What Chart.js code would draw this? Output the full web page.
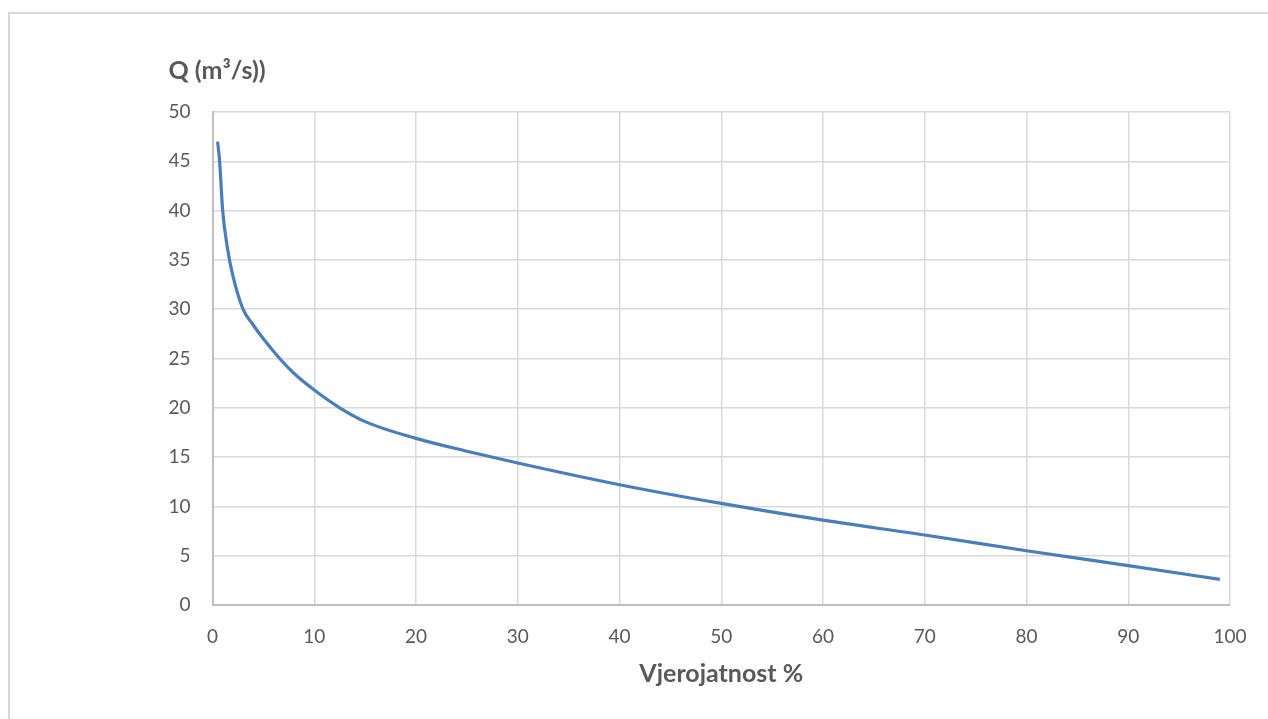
<!DOCTYPE html>
<html>
<head>
<meta charset="utf-8">
<script src="https://cdn.jsdelivr.net/npm/chart.js@4.4.1/dist/chart.umd.min.js"></script>
<style>
  html, body { margin: 0; padding: 0; background: #fff; overflow: hidden; }
  #wrap { position: relative; width: 1268px; height: 719px; }
  #frame { position: absolute; left: 8px; top: 12px; width: 1300px; height: 800px;
           border-left: 2px solid #d9d9d9; border-top: 2px solid #d9d9d9; box-sizing: border-box; }
  canvas { position: absolute; left: 0; top: 0; }
</style>
</head>
<body>
<div id="wrap">
  <div id="frame"></div>
  <canvas id="c" width="1268" height="719"></canvas>
</div>
<script>
// Values
const probability = [0.5, 0.7, 1.0, 1.5, 2.0, 3.0, 4.0, 5.0, 6.6, 8.0, 10, 12.5, 15, 20, 25, 30, 40, 50, 60, 70, 80, 90, 99];
const flow        = [47.0, 45.0, 40.0, 36.0, 33.4, 30.0, 28.4, 27.0, 25.0, 23.5, 21.8, 20.0, 18.6, 16.9, 15.6, 14.4, 12.2, 10.3, 8.6, 7.1, 5.5, 4.0, 2.6];
const yAxisTitle = 'Q (m\u00B3/s))';
const xAxisTitle = 'Vjerojatnost %';

const FONT = 'Lato, "Open Sans", sans-serif';
const GREY = '#595959';

const yTitlePlugin = {
  id: 'yTitle',
  afterDraw(chart) {
    const ctx = chart.ctx;
    const area = chart.chartArea;
    ctx.save();
    ctx.font = 'bold 25px ' + FONT;
    ctx.fillStyle = GREY;
    ctx.textAlign = 'left';
    ctx.textBaseline = 'middle';
    ctx.fillText(yAxisTitle, area.left - 44, area.top - 41);
    ctx.restore();
  }
};

new Chart(document.getElementById('c'), {
  type: 'line',
  data: {
    datasets: [{
      data: probability.map((p, i) => ({ x: p, y: flow[i] })),
      borderColor: '#4a7ebb',
      borderWidth: 3.2,
      pointRadius: 0,
      fill: false,
      cubicInterpolationMode: 'monotone'
    }]
  },
  options: {
    responsive: false,
    animation: false,
    layout: { padding: { top: 112, right: 38, left: 0, bottom: 0 } },
    plugins: { legend: { display: false }, tooltip: { enabled: false } },
    scales: {
      x: {
        type: 'linear',
        min: 0, max: 100,
        ticks: { stepSize: 10, color: GREY, font: { family: FONT, size: 19 }, padding: 20, maxRotation: 0 },
        grid: { color: '#d9d9d9', lineWidth: 1.5, drawTicks: false },
        border: { color: '#bfbfbf', width: 2 },
        title: { display: true, text: xAxisTitle, color: GREY, font: { family: FONT, size: 25, weight: 'bold' }, padding: { top: 10, bottom: 30 } },
        afterFit(s) { s.height = 114; }
      },
      y: {
        min: 0, max: 50,
        ticks: { stepSize: 5, color: GREY, font: { family: FONT, size: 19 }, padding: 22 },
        grid: { color: '#d9d9d9', lineWidth: 1.5, drawTicks: false },
        border: { color: '#bfbfbf', width: 2 },
        afterFit(s) { s.width = 212.5; }
      }
    }
  },
  plugins: [yTitlePlugin]
});
</script>
</body>
</html>
